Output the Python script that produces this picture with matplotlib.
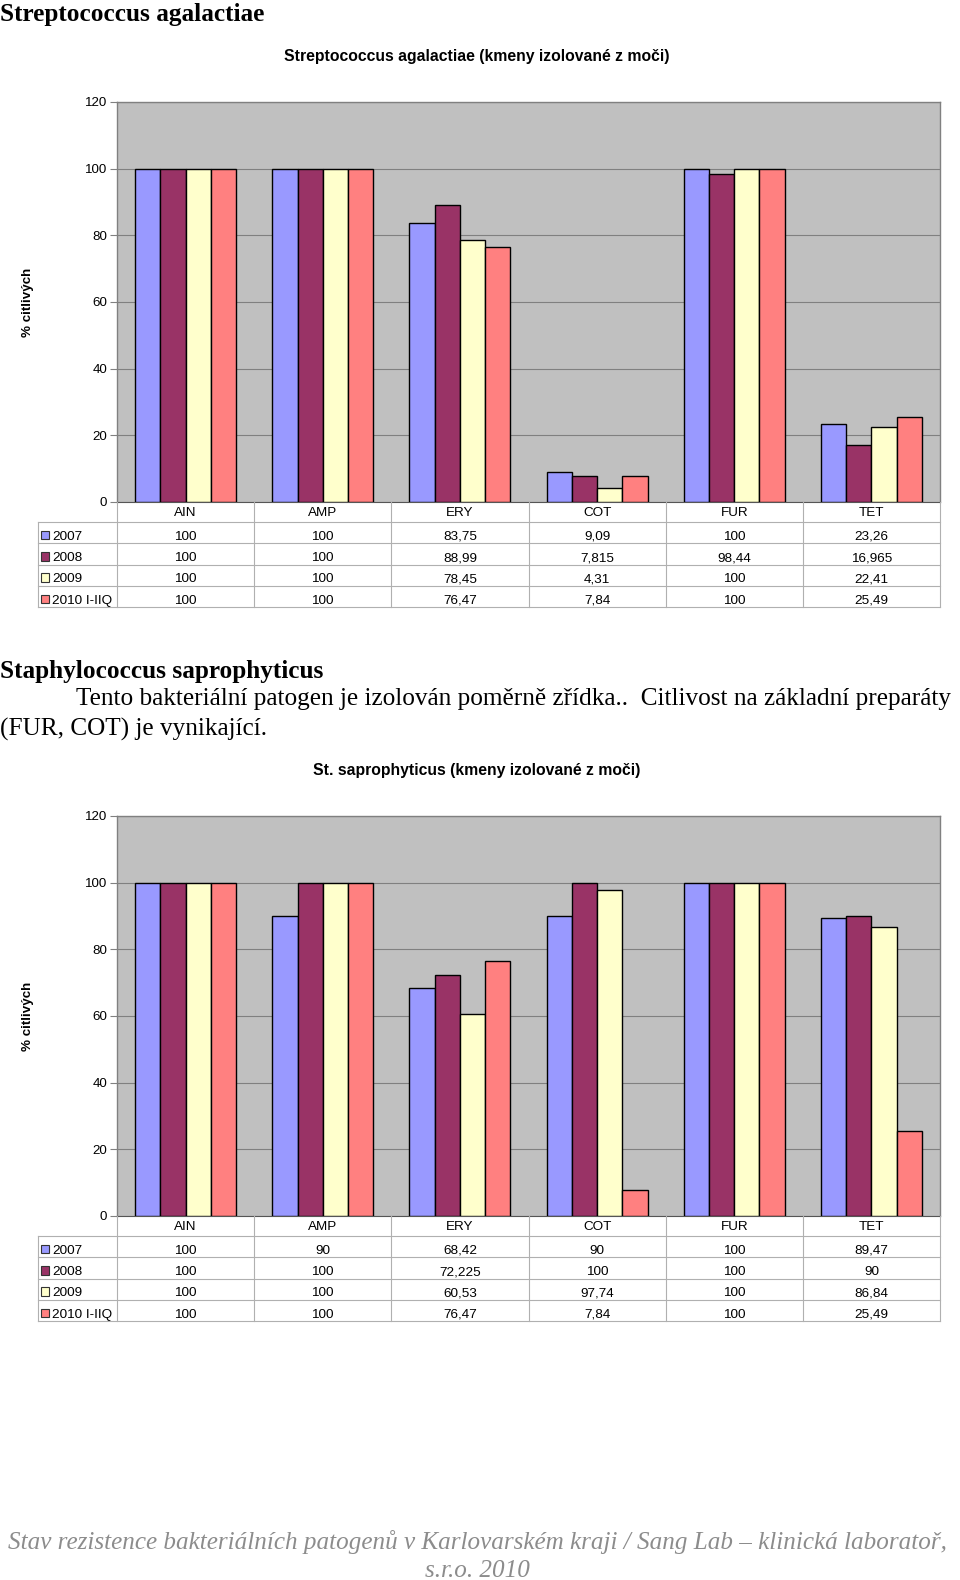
import numpy as np
import matplotlib
matplotlib.use("Agg")
import matplotlib.pyplot as plt
from matplotlib.patches import Rectangle

W, H = 960, 1580

categories = ["AIN", "AMP", "ERY", "COT", "FUR", "TET"]
years = ["2007", "2008", "2009", "2010 I-IIQ"]
colors = ["#9999FF", "#993366", "#FFFFCC", "#FF8080"]

# Streptococcus agalactiae
strep_2007 = [100, 100, 83.75, 9.09, 100, 23.26]
strep_2008 = [100, 100, 88.99, 7.815, 98.44, 16.965]
strep_2009 = [100, 100, 78.45, 4.31, 100, 22.41]
strep_2010 = [100, 100, 76.47, 7.84, 100, 25.49]

# Staphylococcus saprophyticus
staph_2007 = [100, 90, 68.42, 90, 100, 89.47]
staph_2008 = [100, 100, 72.225, 100, 100, 90]
staph_2009 = [100, 100, 60.53, 97.74, 100, 86.84]
staph_2010 = [100, 100, 76.47, 7.84, 100, 25.49]

yticks = [0, 20, 40, 60, 80, 100, 120]

SANS = "Liberation Sans"
SERIF = "Liberation Serif"


def box(l, t, r, b):
    return [l / W, 1 - b / H, (r - l) / W, (b - t) / H]


def fmt(v):
    return f"{v:g}".replace(".", ",")


def draw_chart(fig, top, title, series):
    # pixel layout of one chart block, top = y of plot area top
    pl, pr, pt, pb = 117, 940, top, top + 400
    tl = 38.3
    tb = pb + 105

    fig.text(477 / W, 1 - (top - 45) / H, title, ha="center", va="center",
             fontsize=11.3, fontweight="bold", family=SANS)

    ax = fig.add_axes(box(pl, pt, pr, pb))
    ax.set_facecolor("#C0C0C0")
    n = len(categories)
    x = np.arange(n)
    bw = 0.184
    for i, vals in enumerate(series):
        ax.bar(x + (i - 1.5) * bw, vals, width=bw, color=colors[i],
               edgecolor="black", linewidth=1.0, zorder=3)
    ax.set_xlim(-0.5, n - 0.5)
    ax.set_ylim(0, 120)
    ax.set_yticks(yticks)
    ax.set_yticklabels([str(t) for t in yticks], family=SANS, fontsize=9.6)
    ax.set_xticks([])
    ax.grid(axis="y", color="#808080", linewidth=0.8, zorder=0)
    ax.tick_params(axis="y", length=5, width=0.8, color="#808080", pad=2)
    for s in ["top", "right", "left"]:
        ax.spines[s].set_color("#808080")
        ax.spines[s].set_linewidth(1.0)
    ax.spines["bottom"].set_color("#555555")
    ax.set_ylabel("% citlivých", family=SANS, fontsize=9.6, fontweight="bold",
                  labelpad=37)

    # data table under the plot (y in pixels from plot bottom)
    unit = (pr - pl) / n
    x0 = -0.5 - (pl - tl) / unit
    tab = fig.add_axes(box(tl, pb, pr, tb))
    tab.set_xlim(x0, n - 0.5)
    tab.set_ylim(105, 0)
    tab.axis("off")
    edges = [0, 20, 41.25, 62.5, 83.75, 105]
    lc = "#B0B0B0"
    for e in edges[1:]:
        tab.plot([x0, n - 0.5], [e, e], color=lc, lw=0.8, clip_on=False)
    for k in range(n + 1):
        tab.plot([k - 0.5, k - 0.5], [0, 105], color=lc, lw=0.8, clip_on=False)
    tab.plot([x0, x0], [20, 105], color=lc, lw=0.8, clip_on=False)
    for j, c in enumerate(categories):
        tab.text(j, 14.5, c, ha="center", va="baseline", family=SANS, fontsize=9.7)
    for i, vals in enumerate(series):
        yc = (edges[i + 1] + edges[i + 2]) / 2 + 2.5
        sq = 8.5
        tab.add_patch(Rectangle((x0 + 2.5 / unit, yc - sq / 2), sq / unit, sq,
                                facecolor=colors[i], edgecolor="#333333", lw=0.8,
                                clip_on=False))
        tab.text(x0 + 14 / unit, yc + 4.8, years[i], ha="left", va="baseline",
                 family=SANS, fontsize=9.7)
        for j, v in enumerate(vals):
            tab.text(j, yc + 4.8, fmt(v), ha="center", va="baseline",
                     family=SANS, fontsize=9.7)


fig = plt.figure(figsize=(W / 100, H / 100), dpi=100)

fig.text(0, 1 - 14 / H, "Streptococcus agalactiae", ha="left", va="center",
         family=SERIF, fontsize=18.2, fontweight="bold")
draw_chart(fig, 102, "Streptococcus agalactiae (kmeny izolované z moči)",
           [strep_2007, strep_2008, strep_2009, strep_2010])

fig.text(0, 1 - 671 / H, "Staphylococcus saprophyticus", ha="left", va="center",
         family=SERIF, fontsize=18.2, fontweight="bold")
fig.text(75.5 / W, 1 - 699.5 / H,
         "Tento bakteriální patogen je izolován poměrně zřídka..  Citlivost na základní preparáty",
         ha="left", va="center", family=SERIF, fontsize=18.2)
fig.text(0, 1 - 729 / H, "(FUR, COT) je vynikající.", ha="left", va="center",
         family=SERIF, fontsize=18.2)
draw_chart(fig, 816, "St. saprophyticus (kmeny izolované z moči)",
           [staph_2007, staph_2008, staph_2009, staph_2010])

footer = dict(ha="center", va="center", family=SERIF, fontsize=18.1,
              style="italic", color="#8C8C8C")
fig.text(477 / W, 1 - 1542 / H,
         "Stav rezistence bakteriálních patogenů v Karlovarském kraji / Sang Lab – klinická laboratoř,",
         **footer)
fig.text(477 / W, 1 - 1571 / H, "s.r.o. 2010", **footer)

fig.savefig("out.png", dpi=100)
